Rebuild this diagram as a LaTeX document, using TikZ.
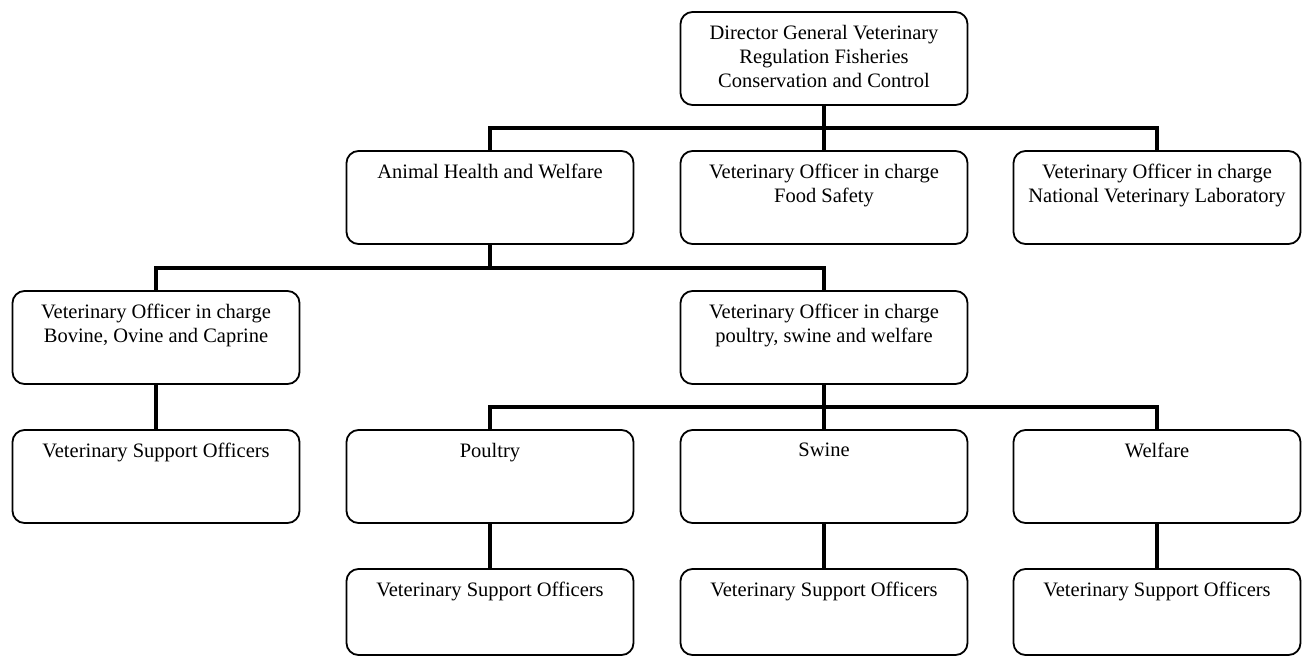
\documentclass[tikz,border=0pt]{standalone}
\usepackage{fontspec}
\setmainfont{Liberation Serif}
\begin{document}
\begin{tikzpicture}[x=1pt,y=-1pt,
  box/.style={draw, line width=1.8pt, rounded corners=12pt, inner sep=0pt, fill=white},
  conn/.style={line width=4.5pt, line cap=rect}]
% box content: fixed-size parbox, text set near the top edge
\newcommand{\orgtext}[2]{\parbox[c][#1pt][t]{287pt}{\centering\vspace*{13pt}%
  \fontsize{20.5}{24}\selectfont #2}}
\useasboundingbox (0,0) rectangle (1308,660);
\fill[white] (0,0) rectangle (1308,660);

% level 1
\node[box] (dir) at (824,58.5) {\orgtext{93}{Director General Veterinary\\Regulation Fisheries\\Conservation and Control}};
% level 2
\node[box] (ah)  at (490,197.5) {\orgtext{93}{Animal Health and Welfare}};
\node[box] (fs)  at (824,197.5) {\orgtext{93}{Veterinary Officer in charge\\Food Safety}};
\node[box] (lab) at (1157,197.5) {\orgtext{93}{Veterinary Officer in charge\\National Veterinary Laboratory}};
% level 3
\node[box] (bov) at (156,337.5) {\orgtext{93}{Veterinary Officer in charge\\Bovine, Ovine and Caprine}};
\node[box] (psw) at (824,337.5) {\orgtext{93}{Veterinary Officer in charge\\poultry, swine and welfare}};
% level 4
\node[box] (vso1) at (156,476.5) {\orgtext{93}{Veterinary Support Officers}};
\node[box] (pou)  at (490,476.5) {\orgtext{93}{Poultry}};
\node[box] (swi)  at (824,476.5) {\orgtext{93}{Swine}};
\node[box] (wel)  at (1157,476.5) {\orgtext{93}{Welfare}};
% level 5
\node[box] (vso2) at (490,612) {\orgtext{86}{Veterinary Support Officers}};
\node[box] (vso3) at (824,612) {\orgtext{86}{Veterinary Support Officers}};
\node[box] (vso4) at (1157,612) {\orgtext{86}{Veterinary Support Officers}};

% bus lines
\coordinate (busA) at (0,128);
\coordinate (busB) at (0,268);
\coordinate (busC) at (0,407);

\draw[conn] (dir.south) -- (fs.north);
\draw[conn] (ah.north) -- (ah.north |- busA) -- (lab.north |- busA) -- (lab.north);

\draw[conn] (ah.south) -- (ah.south |- busB);
\draw[conn] (bov.north) -- (bov.north |- busB) -- (psw.north |- busB) -- (psw.north);

\draw[conn] (bov.south) -- (vso1.north);

\draw[conn] (psw.south) -- (swi.north);
\draw[conn] (pou.north) -- (pou.north |- busC) -- (wel.north |- busC) -- (wel.north);

\draw[conn] (pou.south) -- (vso2.north);
\draw[conn] (swi.south) -- (vso3.north);
\draw[conn] (wel.south) -- (vso4.north);
\end{tikzpicture}
\end{document}
